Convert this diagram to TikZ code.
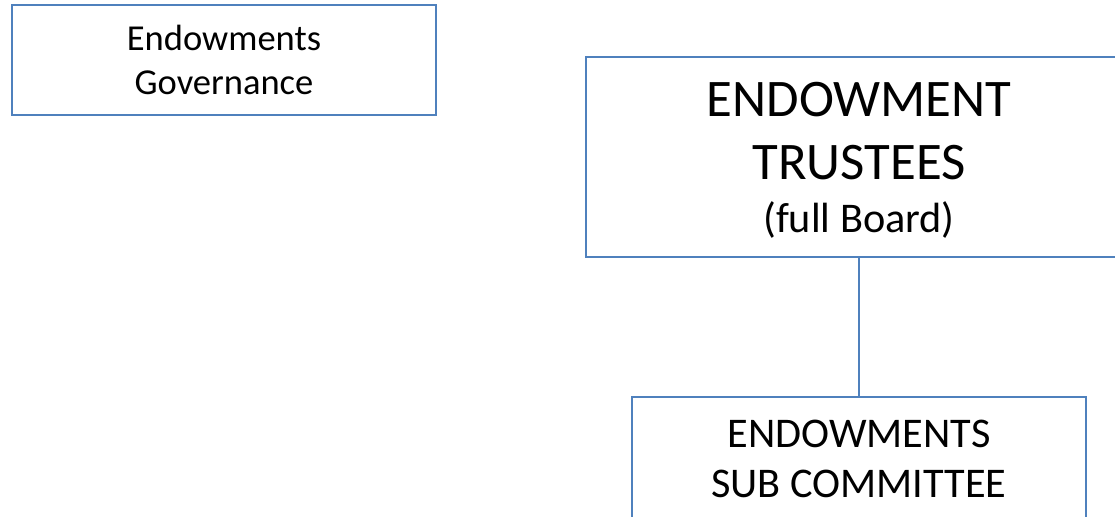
\documentclass[tikz,border=0pt]{standalone}
\usepackage{fontspec}
\setmainfont{Carlito}
\usetikzlibrary{fit}
\definecolor{officeblue}{HTML}{4F81BD}
\tikzset{
  box/.style={draw=officeblue, line width=1.75pt, inner sep=0pt},
  conn/.style={draw=officeblue, line width=1.75pt},
  lbl/.style={anchor=base, inner sep=0pt, text=black},
  small/.style={font=\fontsize{27.4}{33}\selectfont},
  mid/.style={font=\fontsize{31.7}{38}\selectfont},
  big/.style={font=\fontsize{39.6}{48}\selectfont}
}
\begin{document}
\begin{tikzpicture}[x=0.75pt,y=-0.75pt]
\useasboundingbox (0,0) rectangle (1115,517);
\clip (0,0) rectangle (1115,517);
\fill[white] (0,0) rectangle (1115,517);
\node[box, fit={(12,5) (436,115)}] (gov) {};
\node[box, fit={(586,57) (1132,257)}] (trustees) {};
\node[box, fit={(632,397) (1086,560)}] (sub) {};
\draw[conn] (trustees.south) -- (sub.north);
\node[lbl, small] (gov1) at (224,51) {Endowments};
\node[lbl, small] (gov2) at (224,95) {Governance};
\node[lbl, big] (tr1) at (859,117) {ENDOWMENT};
\node[lbl, big] (tr2) at (859,180) {TRUSTEES};
\node[lbl, mid] (tr3) at (859,233) {(full Board)};
\node[lbl, mid] (sub1) at (859,447) {ENDOWMENTS};
\node[lbl, mid] (sub2) at (859,497) {SUB COMMITTEE};
\end{tikzpicture}
\end{document}
